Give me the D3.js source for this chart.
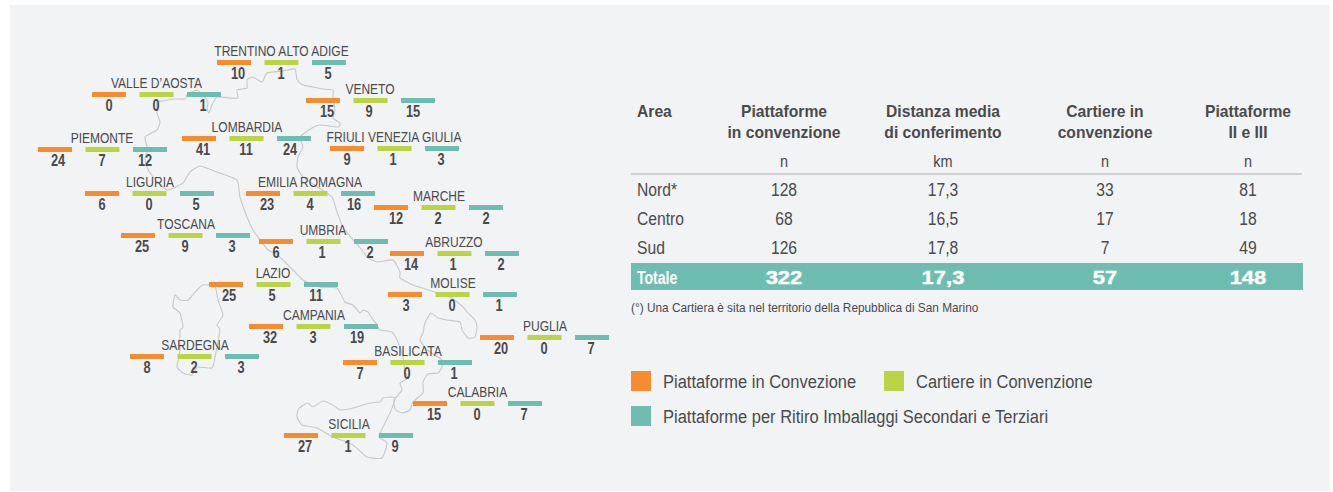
<!DOCTYPE html>
<html>
<head>
<meta charset="utf-8">
<script src="https://cdn.jsdelivr.net/npm/d3@7"></script>
<style>
  html, body { margin: 0; padding: 0; background: #fff; }
  svg { display: block; }
  text { font-family: "Liberation Sans", "Arimo", sans-serif; fill: #4a4a4d; }
</style>
</head>
<body>
<svg id="chart" width="1333" height="492"></svg>
<script>
// values
const regions = ['TRENTINO ALTO ADIGE','VALLE D\u2019AOSTA','VENETO','PIEMONTE','LOMBARDIA','FRIULI VENEZIA GIULIA','LIGURIA','EMILIA ROMAGNA','MARCHE','TOSCANA','UMBRIA','ABRUZZO','LAZIO','MOLISE','CAMPANIA','PUGLIA','SARDEGNA','BASILICATA','CALABRIA','SICILIA'];
const piattaforme = [10,0,15,24,41,9,6,23,12,25,6,14,25,3,32,20,8,7,15,27];
const cartiere    = [1,0,9,7,11,1,0,4,2,9,1,1,5,0,3,0,2,0,0,1];
const ritiro      = [5,1,15,12,24,3,5,16,2,3,2,2,11,1,19,7,3,1,7,9];

const seriesNames = ['Piattaforme in Convezione','Cartiere in Convenzione','Piattaforme per Ritiro Imballaggi Secondari e Terziari'];
const seriesColors = ['#f68b2f','#bad445','#6fbdb0'];

const tableHead = [['Area'],['Piattaforme','in convenzione'],['Distanza media','di conferimento'],['Cartiere in','convenzione'],['Piattaforme','II e III']];
const tableUnits = ['','n','km','n','n'];
const tableRows = [
  ['Nord*','128','17,3','33','81'],
  ['Centro','68','16,5','17','18'],
  ['Sud','126','17,8','7','49']
];
const tableTotal = ['Totale','322','17,3','57','148'];
const footnote = '(\u00b0) Una Cartiera \u00e8 sita nel territorio della Repubblica di San Marino';

// where each region sits on the map: first bar left, bar top, label centre, value centres
const regionX   = [217,92,306,38,182,330,85,246,374,121,259,390,209,388,249,480,130,343,413,284];
const regionY   = [60,92,98,147,136,146,191,191,205,233,239,251,282,292,324,335,354,360,401,433];
const labelX    = [281.5,156.5,370,102,247,394,150,310,439,186,323,454,273,453,314,545,195,408,477.5,349];
const valueX    = [[238,281,328],[109,156,203],[327,369,413],[58,102,145],[203,246,290],[347,393,441],[102,149,196],[267,310,354],[396,438,486],[142,185,232],[276,322,370],[411,453,501],[229,272,316],[406,452,499],[270,313,357],[501,544,591],[147,194,241],[360,407,454],[434,477,524],[305,348,395]];

// map outlines
const mainland = [[157,102],[163,101],[173,99],[185,99],[187,95],[197,90],[205,97],[208,103],[207,108],[209,113],[212,105],[217,97],[230,98],[238,98],[237,90],[247,88],[247,80],[253,77],[262,82],[267,73],[283,71],[295,69],[297,80],[303,85],[313,87],[323,89],[333,90],[333,97],[335,110],[333,118],[340,123],[338,127],[320,125],[312,128],[300,137],[303,147],[298,157],[297,167],[303,177],[316,186],[332,197],[337,212],[343,227],[353,240],[362,250],[367,257],[377,262],[393,260],[400,272],[400,278],[413,285],[435,292],[450,297],[463,307],[467,312],[475,320],[477,327],[475,337],[468,338],[462,330],[460,322],[447,320],[438,318],[431,313],[425,323],[423,333],[420,340],[427,350],[442,360],[442,367],[438,373],[428,374],[423,382],[423,393],[413,402],[410,410],[402,413],[395,409],[394,400],[402,390],[400,383],[408,378],[405,372],[403,357],[398,342],[392,332],[380,330],[377,325],[372,318],[368,312],[363,310],[360,313],[353,305],[345,302],[337,288],[320,287],[303,280],[293,270],[283,260],[275,253],[268,250],[253,230],[247,217],[240,197],[237,180],[217,172],[200,166],[190,172],[183,183],[167,190],[153,177],[147,167],[145,158],[148,150],[145,137],[157,130],[160,122],[157,113]];
const sicily = [[298,410],[302,406],[308,403],[313,407],[323,401],[333,405],[340,410],[353,408],[370,403],[380,402],[383,398],[392,397],[395,399],[390,413],[383,427],[379,437],[387,443],[382,458],[367,457],[353,445],[333,437],[317,428],[302,425],[297,417]];
const sardinia = [[203,285],[197,290],[188,300],[180,300],[175,295],[173,307],[180,313],[183,327],[180,330],[180,347],[179,357],[177,367],[183,373],[192,375],[198,367],[212,368],[215,357],[220,330],[217,325],[223,315],[218,300],[215,285],[208,285]];

const svg = d3.select('#chart');

// no condensed face installed, so squeeze the glyphs to the measured width
function squeeze(sel, ratio){
  sel.each(function(){
    let w = this.getComputedTextLength();
    d3.select(this)
      .attr('textLength', w*ratio)
      .attr('lengthAdjust', 'spacingAndGlyphs');
  });
}

svg.append('rect')
  .attr('x', 10).attr('y', 5)
  .attr('width', 1320).attr('height', 486)
  .attr('fill', '#f2f3f5');

/* map */
const outline = d3.line().curve(d3.curveCardinalClosed.tension(0.5));
svg.append('g').selectAll('path')
  .data([mainland, sicily, sardinia])
  .enter().append('path')
    .attr('d', d => outline(d))
    .attr('fill', 'none')
    .attr('stroke', '#c6c8cb')
    .attr('stroke-width', 1.1)
    .attr('stroke-linejoin', 'round');

/* region markers */
const barWidth = 34, barHeight = 5;
const barOffset = d3.scalePoint().domain([0,1,2]).range([0,95]);
const barColor = d3.scaleOrdinal().domain([0,1,2]).range(seriesColors);

const regionData = regions.map((name,i) => ({
  name: name,
  i: i,
  values: [piattaforme[i], cartiere[i], ritiro[i]]
}));

const regionG = svg.append('g').selectAll('g')
  .data(regionData)
  .enter().append('g');

regionG.append('text')
  .attr('class', 'label')
  .attr('x', d => labelX[d.i])
  .attr('y', d => regionY[d.i] - 4.5)
  .attr('text-anchor', 'middle')
  .attr('font-size', 15.5)
  .text(d => d.name);
squeeze(regionG.selectAll('text.label'), 0.775);

regionG.selectAll('rect')
  .data(d => d.values.map((v,k) => ({k:k, i:d.i})))
  .enter().append('rect')
    .attr('x', d => regionX[d.i] + barOffset(d.k))
    .attr('y', d => regionY[d.i])
    .attr('width', barWidth)
    .attr('height', barHeight)
    .attr('fill', d => barColor(d.k));

regionG.selectAll('text.value')
  .data(d => d.values.map((v,k) => ({k:k, i:d.i, v:v})))
  .enter().append('text')
    .attr('class', 'value')
    .attr('x', d => valueX[d.i][d.k])
    .attr('y', d => regionY[d.i] + 19)
    .attr('text-anchor', 'middle')
    .attr('font-size', 16)
    .attr('font-weight', 'bold')
    .text(d => d.v);
squeeze(regionG.selectAll('text.value'), 0.8);

/* table */
const colX = d3.scaleOrdinal().domain([1,2,3,4]).range([784,943,1105,1248]);
const tableLeft = 631, tableRight = 1303, textLeft = 637;
const rowY = d3.scalePoint().domain([0,1,2]).range([196,254]);

const cellX = c => c === 0 ? textLeft : colX(c);
const cellAnchor = c => c === 0 ? 'start' : 'middle';

const head = svg.append('g');
tableHead.forEach((lines,c) => {
  lines.forEach((line,l) => {
    head.append('text')
      .attr('class', 'hb')
      .attr('x', cellX(c))
      .attr('y', 117 + l*21)
      .attr('text-anchor', cellAnchor(c))
      .attr('font-size', 17)
      .attr('font-weight', 'bold')
      .text(line);
  });
  head.append('text')
    .attr('class', 'hu')
    .attr('x', cellX(c))
    .attr('y', 167)
    .attr('text-anchor', cellAnchor(c))
    .attr('font-size', 17)
    .text(tableUnits[c]);
});
squeeze(head.selectAll('text.hb'), 0.92);
squeeze(head.selectAll('text.hu'), 0.85);

svg.append('line')
  .attr('x1', tableLeft).attr('x2', 1302)
  .attr('y1', 174).attr('y2', 174)
  .attr('stroke', '#a9abad')
  .attr('stroke-width', 1.2);

const body = svg.append('g');
tableRows.forEach((row,r) => {
  row.forEach((cell,c) => {
    body.append('text')
      .attr('x', cellX(c))
      .attr('y', rowY(r))
      .attr('text-anchor', cellAnchor(c))
      .attr('font-size', 18)
      .text(cell);
  });
});
squeeze(body.selectAll('text'), 0.87);

svg.append('rect')
  .attr('x', tableLeft).attr('y', 263)
  .attr('width', tableRight - tableLeft).attr('height', 27)
  .attr('fill', seriesColors[2]);

tableTotal.forEach((cell,c) => {
  let t = svg.append('text')
    .attr('x', cellX(c))
    .attr('y', 283.5)
    .attr('text-anchor', cellAnchor(c))
    .attr('font-size', 18)
    .attr('font-weight', 'bold')
    .style('fill', '#fff')
    .style('stroke', '#fff')
    .style('stroke-width', c === 0 ? 0 : 0.4)
    .text(cell);
  squeeze(t, c === 0 ? 0.78 : 1.22);
});

svg.append('text')
  .attr('class', 'note')
  .attr('x', tableLeft).attr('y', 312)
  .attr('font-size', 13)
  .text(footnote);
squeeze(svg.selectAll('text.note'), 0.91);

/* legend */
const legendX = [631,884,631], legendY = [371,371,406];
const legendG = svg.append('g').selectAll('g')
  .data(seriesNames)
  .enter().append('g')
    .attr('transform', (d,i) => 'translate(' + legendX[i] + ',' + legendY[i] + ')');

legendG.append('rect')
  .attr('width', 20).attr('height', 20)
  .attr('fill', (d,i) => seriesColors[i]);

legendG.append('text')
  .attr('x', 32)
  .attr('y', 17)
  .attr('font-size', 18)
  .text(d => d);
squeeze(legendG.selectAll('text'), 0.915);
</script>
</body>
</html>
